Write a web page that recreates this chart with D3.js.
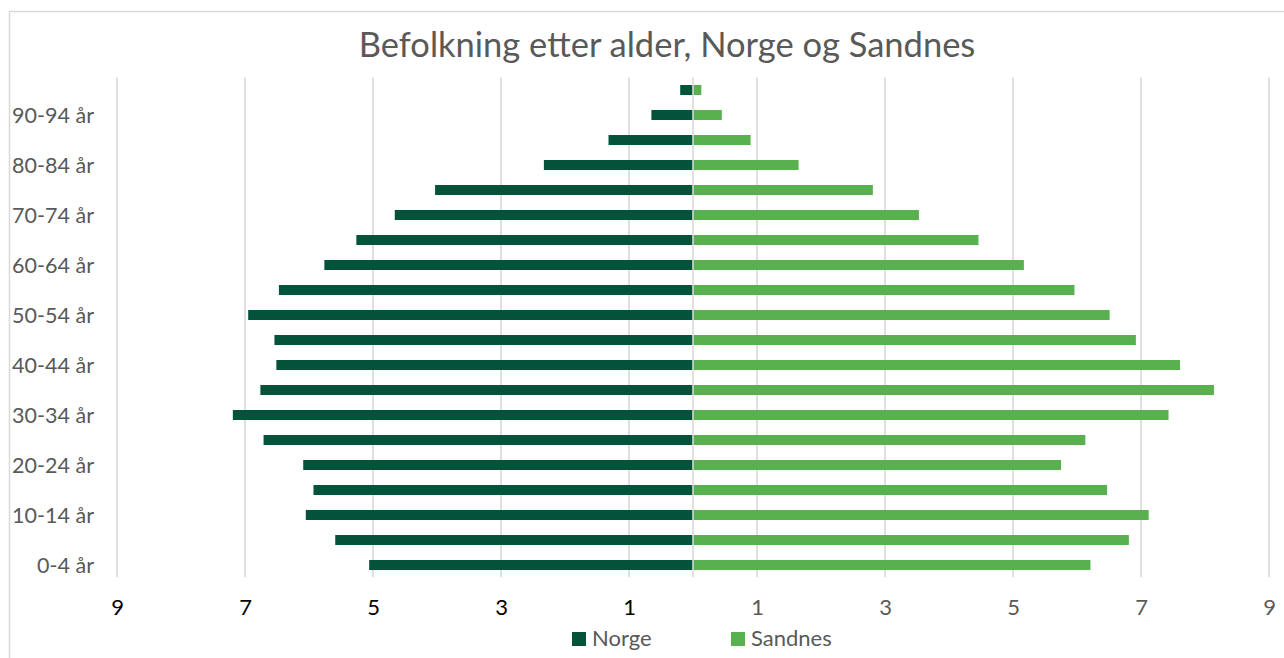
<!DOCTYPE html>
<html>
<head>
<meta charset="utf-8">
<script src="https://cdn.jsdelivr.net/npm/d3@7"></script>
<style>
  html, body { margin: 0; padding: 0; background: #fff; }
  svg { display: block; font-family: Lato, "Open Sans", sans-serif; }
</style>
</head>
<body>
<svg id="chart" width="1284" height="658"></svg>
<script>
const title = "Befolkning etter alder, Norge og Sandnes";
const categories = ["0-4 år","5-9 år","10-14 år","15-19 år","20-24 år","25-29 år","30-34 år","35-39 år","40-44 år","45-49 år","50-54 år","55-59 år","60-64 år","65-69 år","70-74 år","75-79 år","80-84 år","85-89 år","90-94 år","95-99 år"];
const norge   = [5.06, 5.59, 6.05, 5.93, 6.09, 6.71, 7.19, 6.76, 6.51, 6.54, 6.95, 6.47, 5.76, 5.26, 4.66, 4.03, 2.33, 1.32, 0.65, 0.20];
const sandnes = [6.21, 6.81, 7.12, 6.47, 5.75, 6.13, 7.43, 8.14, 7.61, 6.92, 6.51, 5.96, 5.17, 4.46, 3.53, 2.81, 1.65, 0.90, 0.45, 0.13];
const seriesNames = ["Norge", "Sandnes"];
const tickValues = [-9, -7, -5, -3, -1, 1, 3, 5, 7, 9];

const colors = { Norge: "#02533a", Sandnes: "#58b04e" };
const svg = d3.select("#chart");

// chart border
svg.append("rect").attr("x", 9.5).attr("y", 11.5).attr("width", 1290).attr("height", 660)
  .attr("fill", "#fff").attr("stroke", "#d9d9d9").attr("stroke-width", 1.5);

const x = d3.scaleLinear().domain([-9, 9]).range([117, 1269]);
const y = d3.scaleBand().domain(categories.slice().reverse()).range([77.5, 577.5])
  .paddingInner(0.6).paddingOuter(0.3);

// gridlines
svg.append("g").selectAll("line").data(tickValues).join("line")
  .attr("x1", d => x(d)).attr("x2", d => x(d))
  .attr("y1", 77.5).attr("y2", 577)
  .attr("stroke", "#d9d9d9").attr("stroke-width", 1.6);

// bars
const rows = categories.map((c, i) => ({ cat: c, n: norge[i], s: sandnes[i] }));
svg.append("g").selectAll("rect").data(rows).join("rect")
  .attr("x", d => x(-d.n)).attr("width", d => x(0) - x(-d.n))
  .attr("y", d => y(d.cat)).attr("height", y.bandwidth())
  .attr("fill", colors.Norge);
svg.append("g").selectAll("rect").data(rows).join("rect")
  .attr("x", x(0)).attr("width", d => x(d.s) - x(0))
  .attr("y", d => y(d.cat)).attr("height", y.bandwidth())
  .attr("fill", colors.Sandnes);

// center category axis line
svg.append("line").attr("x1", x(0)).attr("x2", x(0)).attr("y1", 77.5).attr("y2", 577)
  .attr("stroke", "#d9d9d9").attr("stroke-width", 1.6);

// y axis labels (every other)
const yAxis = d3.axisLeft(y).tickSize(0).tickPadding(0)
  .tickFormat((d, i) => "");
const gy = svg.append("g").attr("transform", "translate(94,0)").call(yAxis);
gy.select(".domain").remove();
gy.selectAll(".tick").each(function(d) {
  const idx = categories.indexOf(d);
  if (idx % 2 === 0 && idx < 19) {
    d3.select(this).select("text").text(d);
  }
});
gy.selectAll("text").attr("font-size", 21.5).attr("fill", "#595959")
  .attr("font-family", "Lato, sans-serif").attr("dy", "0.36em");

// x axis labels
const xAxis = d3.axisBottom(x).tickValues(tickValues).tickSize(0).tickPadding(0)
  .tickFormat(d => Math.abs(d));
const gx = svg.append("g").attr("transform", "translate(0,599)").call(xAxis);
gx.select(".domain").remove();
gx.selectAll("text").attr("font-size", 22).attr("font-family", "Lato, sans-serif")
  .attr("fill", d => d < 0 ? "#000" : "#595959").attr("dy", "0.72em");

// title
svg.append("text").attr("x", 667).attr("y", 57).attr("text-anchor", "middle")
  .attr("font-size", 34.5).attr("fill", "#595959").text(title);

// legend
const legendX = [572, 731];
const lg = svg.append("g").selectAll("g").data(seriesNames).join("g")
  .attr("transform", (d, i) => `translate(${legendX[i]},632)`);
lg.append("rect").attr("width", 14).attr("height", 14).attr("fill", d => colors[d]);
lg.append("text").attr("x", 20).attr("y", 14).attr("font-size", 22).attr("fill", "#595959").text(d => d);
</script>
</body>
</html>
